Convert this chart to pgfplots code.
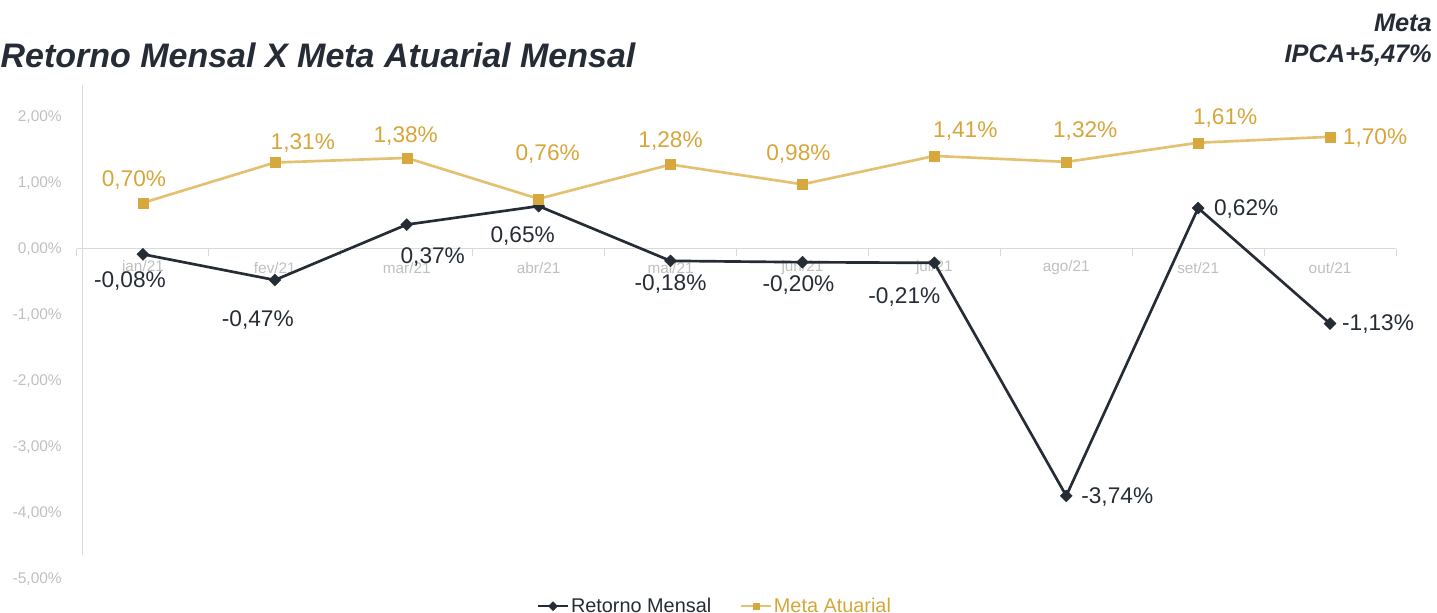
\documentclass[border=0pt]{standalone}
\usepackage{pgfplots}
\pgfplotsset{compat=1.18}
\usepackage{fontspec}
\setmainfont{Liberation Sans}
\definecolor{dark}{RGB}{38,44,53}
\definecolor{goldline}{RGB}{228,193,112}
\definecolor{goldmark}{RGB}{214,168,62}
\definecolor{goldtext}{RGB}{214,166,58}
\definecolor{axgray}{RGB}{217,217,217}
\definecolor{ticktext}{RGB}{191,191,191}
\tikzset{lab/.style={font=\fontsize{17}{20}\selectfont, inner sep=0pt, anchor=center}}
\begin{document}
\begin{tikzpicture}
\useasboundingbox (-57.75pt,-25.5pt) rectangle (1020pt,434.25pt);
\begin{axis}[
  at={(0,0)}, anchor=south west,
  scale only axis, width=989.25pt, height=370.5pt,
  xmin=-0.5, xmax=9.5, ymin=-5, ymax=2.485,
  clip=false,
  axis x line*=middle, axis y line*=left,
  x axis line style={draw=none}, y axis line style={draw=none},
  hide obscured x ticks=false, hide obscured y ticks=false,
  major tick length=0pt,
  xtick={0,...,9},
  xticklabels={jan/21,fev/21,mar/21,abr/21,mai/21,jun/21,jul/21,ago/21,set/21,out/21},
  ytick={-5,-4,-3,-2,-1,0,1,2},
  yticklabels={{-5,00\%},{-4,00\%},{-3,00\%},{-2,00\%},{-1,00\%},{0,00\%},{1,00\%},{2,00\%}},
  xticklabel style={font=\fontsize{11.5}{13}\selectfont, text=ticktext, anchor=center, inner sep=0pt, yshift=-14.25pt},
  yticklabel style={font=\fontsize{11.6}{13}\selectfont, text=ticktext, anchor=east, inner sep=0pt, xshift=-11.25pt},
  legend columns=2,
  legend style={draw=none, fill=none, at={(axis description cs:0.4837,-0.055)}, anchor=center,
    font=\fontsize{14.9}{17}\selectfont, /tikz/column 2/.style={column sep=20pt},
    nodes={inner sep=1.5pt}},
  legend image code/.code={\draw[mark repeat=2,mark phase=2,#1,line width=1.5pt,mark size=2.4pt] plot coordinates {(0pt,0pt)(11.25pt,0pt)(22.5pt,0pt)};},
]
\draw[axgray, line width=0.75pt] (axis cs:-0.462,-4.636) -- (axis cs:-0.462,2.485);
\draw[axgray, line width=0.75pt] (axis cs:-0.5,0) -- (axis cs:9.5,0);
\draw[axgray, line width=0.75pt] (axis cs:-0.5,0) -- ++(0pt,-5.25pt);
\draw[axgray, line width=0.75pt] (axis cs:0.5,0) -- ++(0pt,-5.25pt);
\draw[axgray, line width=0.75pt] (axis cs:1.5,0) -- ++(0pt,-5.25pt);
\draw[axgray, line width=0.75pt] (axis cs:2.5,0) -- ++(0pt,-5.25pt);
\draw[axgray, line width=0.75pt] (axis cs:3.5,0) -- ++(0pt,-5.25pt);
\draw[axgray, line width=0.75pt] (axis cs:4.5,0) -- ++(0pt,-5.25pt);
\draw[axgray, line width=0.75pt] (axis cs:5.5,0) -- ++(0pt,-5.25pt);
\draw[axgray, line width=0.75pt] (axis cs:6.5,0) -- ++(0pt,-5.25pt);
\draw[axgray, line width=0.75pt] (axis cs:7.5,0) -- ++(0pt,-5.25pt);
\draw[axgray, line width=0.75pt] (axis cs:8.5,0) -- ++(0pt,-5.25pt);
\draw[axgray, line width=0.75pt] (axis cs:9.5,0) -- ++(0pt,-5.25pt);

\addplot[color=dark, line width=2pt, mark=square*, mark size=3.2pt,
  mark options={rotate=45, fill=dark, draw=dark, line width=0.3pt, solid}]
  coordinates {(0,-0.08) (1,-0.47) (2,0.37) (3,0.65) (4,-0.18) (5,-0.20) (6,-0.21) (7,-3.74) (8,0.62) (9,-1.13)};
\addlegendentry{\textcolor{dark}{Retorno Mensal}}
\addplot[color=goldline, line width=2pt, mark=square*, mark size=3.75pt,
  mark options={fill=goldmark, draw=goldmark, line width=0.3pt, solid}]
  coordinates {(0,0.70) (1,1.31) (2,1.38) (3,0.76) (4,1.28) (5,0.98) (6,1.41) (7,1.32) (8,1.61) (9,1.70)};
\addlegendentry{\textcolor{goldtext}{Meta Atuarial}}

\node[lab, text=goldtext, xshift=-6.75pt, yshift=17.25pt] at (axis cs:0,0.70) {0,70\%};
\node[lab, text=goldtext, xshift=21pt, yshift=15pt] at (axis cs:1,1.31) {1,31\%};
\node[lab, text=goldtext, xshift=-0.75pt, yshift=16.5pt] at (axis cs:2,1.38) {1,38\%};
\node[lab, text=goldtext, xshift=6.75pt, yshift=33.75pt] at (axis cs:3,0.76) {0,76\%};
\node[lab, text=goldtext, xshift=0pt, yshift=17.25pt] at (axis cs:4,1.28) {1,28\%};
\node[lab, text=goldtext, xshift=-3pt, yshift=22.5pt] at (axis cs:5,0.98) {0,98\%};
\node[lab, text=goldtext, xshift=23.25pt, yshift=18.75pt] at (axis cs:6,1.41) {1,41\%};
\node[lab, text=goldtext, xshift=14.25pt, yshift=23.25pt] at (axis cs:7,1.32) {1,32\%};
\node[lab, text=goldtext, xshift=20.25pt, yshift=18.75pt] at (axis cs:8,1.61) {1,61\%};
\node[lab, text=goldtext, xshift=33.75pt, yshift=-0.75pt] at (axis cs:9,1.70) {1,70\%};

\node[lab, text=dark, xshift=-9.75pt, yshift=-20.25pt] at (axis cs:0,-0.08) {-0,08\%};
\node[lab, text=dark, xshift=-12.75pt, yshift=-30pt] at (axis cs:1,-0.47) {-0,47\%};
\node[lab, text=dark, xshift=19.5pt, yshift=-24pt] at (axis cs:2,0.37) {0,37\%};
\node[lab, text=dark, xshift=-12pt, yshift=-22.5pt] at (axis cs:3,0.65) {0,65\%};
\node[lab, text=dark, xshift=0pt, yshift=-17.25pt] at (axis cs:4,-0.18) {-0,18\%};
\node[lab, text=dark, xshift=-3pt, yshift=-17.25pt] at (axis cs:5,-0.20) {-0,20\%};
\node[lab, text=dark, xshift=-22.5pt, yshift=-25.5pt] at (axis cs:6,-0.21) {-0,21\%};
\node[lab, text=dark, xshift=38.25pt, yshift=-0.75pt] at (axis cs:7,-3.74) {-3,74\%};
\node[lab, text=dark, xshift=36pt, yshift=-0.75pt] at (axis cs:8,0.62) {0,62\%};
\node[lab, text=dark, xshift=36pt, yshift=0pt] at (axis cs:9,-1.13) {-1,13\%};
\end{axis}
\node[anchor=base west, inner sep=0pt, font=\fontsize{25.5}{30}\selectfont\bfseries\itshape, text=dark] at (-57.5pt,383.25pt) {Retorno Mensal X Meta Atuarial Mensal};
\node[anchor=base east, inner sep=0pt, font=\fontsize{19}{22}\selectfont\bfseries\itshape, text=dark] at (1016.25pt,410.25pt) {Meta};
\node[anchor=base east, inner sep=0pt, font=\fontsize{19}{22}\selectfont\bfseries\itshape, text=dark] at (1016.25pt,387pt) {IPCA+5,47\%};
\end{tikzpicture}
\end{document}
